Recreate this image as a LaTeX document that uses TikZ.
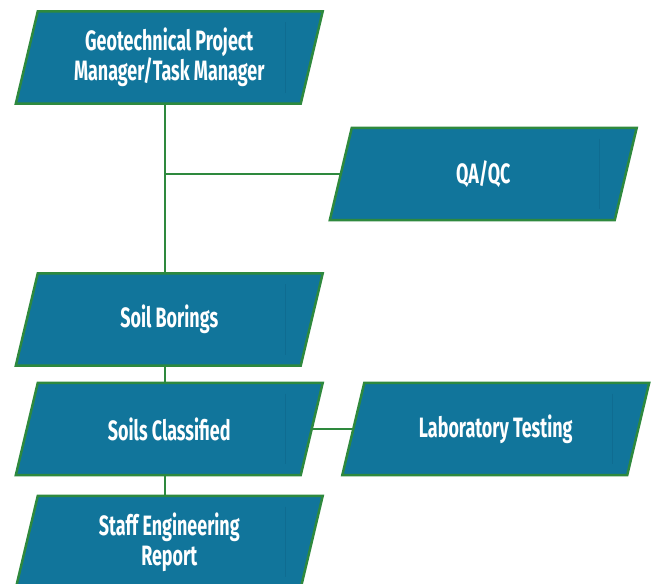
\documentclass[tikz,border=0pt]{standalone}
\usepackage{fontspec}
\setmainfont{Fira Sans}[FakeStretch=0.64]
\usetikzlibrary{backgrounds}
\definecolor{boxfill}{RGB}{17,117,155}
\definecolor{boxedge}{RGB}{46,137,62}
\definecolor{boxseam}{RGB}{15,108,145}
\tikzset{
  stage/.style={rectangle, minimum width=284.5pt, minimum height=92pt,
    inner sep=0pt, text=white, align=center,
    font=\fontsize{28}{30}\selectfont\bfseries},
  slant/.style={fill=boxfill, draw=boxedge, line width=2.5pt, line join=miter},
  seam/.style={draw=boxseam, line width=1pt},
  link/.style={draw=boxedge, line width=2.5pt}
}
% parallelogram behind a named node, skewed by 22pt across its height
\newcommand{\slantbox}[1]{%
  \path[slant] ([xshift=11pt]#1.north west) -- ([xshift=11pt]#1.north east)
    -- ([xshift=-11pt]#1.south east) -- ([xshift=-11pt]#1.south west) -- cycle;
  \draw[seam] ([xshift=-26pt,yshift=-11pt]#1.north east) -- ([xshift=-26pt,yshift=11pt]#1.south east);}
\begin{document}
\begin{tikzpicture}[x=1pt, y=-1pt]
  \useasboundingbox (0,0) rectangle (651,584);
  \clip (0,0) rectangle (651,584);
  \coordinate (spine) at (165,0);

  \node[stage] (pm)   at (169.25,57.5) {Geotechnical Project\\Manager/Task Manager};
  \node[stage] (qa)   at (483.25,174) {QA/QC};
  \node[stage] (sb)   at (169.25,319.5) {Soil Borings};
  \node[stage] (sc)   at (169.25,429) {Soils Classified};
  \node[stage] (lab)  at (495.75,429) {Laboratory Testing};
  \node[stage] (rep)  at (169.25,542) {Staff Engineering\\Report};

  \begin{scope}[on background layer]
    \slantbox{pm}
    \slantbox{qa}
    \slantbox{sb}
    \slantbox{sc}
    \slantbox{lab}
    \slantbox{rep}
    \draw[link] (pm.south -| spine) -- (sb.north -| spine);
    \draw[link] (spine |- qa.west) -- (qa.west);
    \draw[link] (sb.south -| spine) -- (sc.north -| spine);
    \draw[link] (sc.south -| spine) -- (rep.north -| spine);
    \draw[link] (sc.east) -- (lab.west);
  \end{scope}
\end{tikzpicture}
\end{document}
